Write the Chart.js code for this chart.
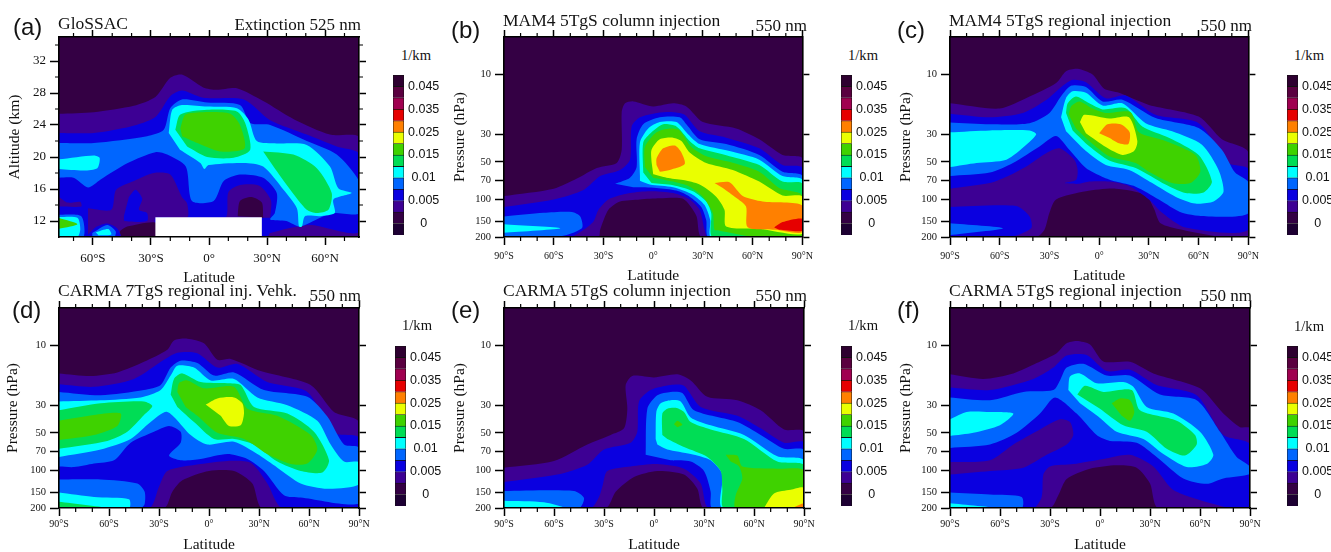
<!DOCTYPE html>
<html>
<head>
<meta charset="utf-8">
<title>Aerosol extinction panels</title>
<script src="https://cdn.jsdelivr.net/npm/chart.js@4"></script>
<style>
  html, body { margin:0; padding:0; background:#fff; }
  #page { position:relative; width:1331px; height:552px; overflow:hidden; }
  #page canvas { position:absolute; }
  #page span { position:absolute; white-space:pre; color:#111; transform:translateY(-50%); line-height:1; opacity:.99; }
</style>
</head>
<body>
<div id="page"></div>
<script>
// ── Colour bar ──────────────────────────────────────────
const colorbarColors = ['#1d0033','#340044','#3d0094','#0a00e0','#0066ff','#00ffff','#00dd55','#3fd200','#eaff00','#ff8000','#e60000','#a00050','#5a0040','#2e0030'];
const colorbarSlots  = [1,3,5,7,9,11,13];
const colorbarLabels = ['0','0.005','0.01','0.015','0.025','0.035','0.045'];

// ── Axes ────────────────────────────────────────────────
const latTicks    = [-90,-60,-30,0,30,60,90];
const latLabels   = ['90°S','60°S','30°S','0°','30°N','60°N','90°N'];
const latMinor    = [-80,-70,-50,-40,-20,-10,10,20,40,50,70,80];
const pressTicks  = [10,30,50,70,100,150,200];
const altTicks    = [12,16,20,24,28,32];
const altMinor    = [14,18,22,26,30,34];

// ── Panel (a) GloSSAC: [lat, km] ────────────────────────
const aBase = [[-78,35],[78,35],[78,10],[-78,10]];
const aL1 = [[-78,25.4],[-59.5,25.6],[-38.8,26.4],[-27.7,27.5],[-20,29.9],[-14,30.3],[-3,28.7],[4,28.4],[14.4,28.6],[28,27],[44,24.7],[62.5,22.8],[78,22.4],[78,10],[-78,10]];
const aL2 = [[-78,23],[-59.5,23],[-40.5,23.8],[-27.7,25],[-20,27.6],[-14,28.3],[-3,27.4],[18,27.2],[31.6,24.6],[50.5,22.8],[66,21.3],[78,20.3],[78,10.7],[52,11.5],[31.6,10.5],[30,10],[-78,10]];
const aHump = [[-62.5,13.6],[-50.5,13.4],[-48,15.9],[-38.8,17],[-28.5,18],[-20,17.8],[-14,15],[-11.3,14.2],[-11.3,12.4],[-27.7,12.4],[-27.7,10],[-57.5,10],[-62.5,10.3]];
const aStrip = [[-78,15.1],[-73,14.3],[-66.5,14.4],[-66,13.8],[-78,13.8]];
const aArch = [[-8,12.4],[8.5,12.4],[10,15.6],[16,16.5],[26,16.4],[32,14.6],[31.6,12.4]];
const aDark1 = [[14.8,12.6],[16,14.5],[22,15],[27.3,14.3],[28,12.4]];
const aDark2 = [[-45.7,10.8],[-42.3,11.3],[-27.7,11.8],[-27.7,10],[-47.4,10]];
const aIsland = [[-41.4,15],[-38,15.9],[-34.5,14.8],[-36.2,13.4],[-32,13],[-32,12],[-43.6,12],[-44,12.6]];
const aLow2 = [[-62.5,10.3],[-58,11.3],[-52.5,11.7],[-47.5,11.1],[-45.7,10],[-62.5,10]];
const aLow3 = [[-60.3,10.5],[-52.5,11.5],[-48.2,10.7],[-49,10],[-60.3,10]];
const aLow4 = [[-58.5,10.6],[-52,11],[-50.5,10.3],[-57,10.2]];
const aCorner2 = [[-78,13],[-66,13],[-64,10.5],[-62.5,10],[-78,10]];
const aCorner3 = [[-78,12.8],[-66,12.6],[-65,10],[-78,10]];
const aCorner4 = [[-78,12.5],[-68,12.4],[-66.5,11],[-68,10],[-78,10]];
const aCorner6 = [[-78,12.4],[-68,11.6],[-78,11]];
const aL3 = [[-78,21.75],[-59.5,21.75],[-32,22.6],[-23.4,23.4],[-20,26.1],[-14,27.2],[-1,26.8],[16,26.5],[21.3,24.25],[31.6,24],[50.5,22],[66,20.3],[78,16.75],[78,13],[64,13],[57.4,12.4],[47,11.3],[40,12],[31.6,12.2],[34,13],[35,15.5],[28,17.4],[16,17.8],[7.6,17],[2.4,14.5],[-8.8,14.5],[-12,18.8],[-21.6,20.3],[-27.7,20.6],[-42,19.25],[-56,17.2],[-62.5,16.2],[-70,17.4],[-78,17.4]];
const aL4 = [[-20.8,23],[-19,25.9],[-14,26.5],[-1,26.3],[14.4,26.1],[20.4,24.7],[24.7,22],[35,21.7],[50.5,21.5],[62.5,18.8],[66.8,16.1],[73.7,15.5],[64.3,14.7],[65,13],[57.4,12.6],[49.6,12.6],[48,11.3],[46.5,11.3],[45.4,13.6],[38.5,15.9],[28,18.8],[18,19.25],[-0.2,19],[-2.4,18.5],[-4.5,19.25],[-15,20.9]];
const aL4b = [[-78,19.7],[-59.5,20.2],[-56.5,19.9],[-57.7,18.6],[-64.6,18.3],[-78,18.5]];
const aL5 = [[28,20.7],[43.6,20.3],[55.7,18.6],[63.4,15.5],[61.7,13.4],[55.7,13],[50.5,13.4],[42,15.9],[33.3,18.8]];
const aL5b = [[-17.4,23.4],[-14.8,25.3],[-1,25.9],[14.4,25.7],[18.7,24.25],[21.3,20.9],[12.7,19.9],[-1,20],[-11.3,21.3]];
const aL6 = [[-14.8,23.6],[-12.2,25.3],[-2.7,25.6],[11,25.4],[16,24],[18.4,21.1],[5.8,20.7],[-6,21.75],[-13.9,22.6]];
const aGap = [[-27.7,12.46],[27.3,12.46],[27.3,10],[-27.7,10]];

// ── Panel (b) MAM4 column: [lat, hPa] ───────────────────
const fullDomain = [[-90,5],[90,5],[90,200],[-90,200]];
const bL1 = [[-90,94],[-60,82],[-46,68],[-34,56],[-22,51],[-19,40],[-19,20],[-17,17],[-12,16.4],[0,18],[12,17],[20,18],[30,24],[50,27],[64,33],[78,44],[90,47],[90,200],[29.4,200],[26,135],[18,99],[4,98],[-8,100],[-20,104],[-27,121],[-32,175],[-33,200],[-90,200]];
const bL2 = [[-90,115],[-60,100],[-42,84],[-32,65],[-20,58],[-14,48],[-13,26],[-8,22],[2.4,20.3],[12,20],[19,21],[28,28.5],[44,32],[64,39],[78,53],[90,56],[90,200],[33,200],[31,175],[28,121],[22,100],[12,89],[-2,86],[-14,89],[-27,100],[-33,121],[-36,150],[-42,175],[-50,200],[-90,200]];
const bL3a = [[-90,137],[-66,128],[-49,126],[-44,137],[-43,170],[-58,200],[-90,200]];
const bL4a = [[-90,158],[-56,170],[-90,185]];
const bL3 = [[-23,75],[-14,67],[-10,55],[-10,33],[-6,25],[4,22],[16,22],[20,25],[28,33],[44,36],[64,44],[78,60],[90,65],[90,200],[33.4,200],[32,147],[29,115],[22,95],[14,85],[2,81],[-12,80]];
const bL4 = [[-8,65],[-8,35],[-3,27],[4,24],[14,24],[21,30],[28,36],[46,41],[64,48],[78,65],[90,70],[90,200],[35,200],[34.4,147],[31,111],[24,92],[12,80],[-2,76],[-8,71]];
const bL5 = [[-6,61],[-6,35],[-1,29],[6,25],[14,26],[22,34],[28,39],[46,45],[64,53],[78,72],[90,75],[90,200],[36,200],[35,129],[32,104],[24,86],[12,77],[-1,74]];
const bL6 = [[-5,55],[-5,38],[2,29],[10,27],[16,28],[23,38],[32,45],[46,50],[64,60],[76,81],[90,93],[90,200],[62,200],[40,178],[37,175],[36,129],[30,95],[22,79],[12,72],[0,67]];
const bL7 = [[-1,50],[-1,40],[4,33],[12,32],[17,34],[22,42],[32,51],[48,58],[64,72],[78,93],[90,95],[90,188],[64,172],[44,165],[43,121],[38,95],[28,76],[18,70],[8,67],[0,63]];
const bL8a = [[2,53],[2,47],[6,39],[13,37],[17,42],[19,52],[10,58],[4,60]];
const bL8b = [[37,74],[46,73],[54,94],[66,104],[90,112],[90,182],[74,175],[57,167],[56,114],[50,97],[42,81]];
const bL9 = [[73,168],[78,152],[90,143],[90,178],[76,175]];

// ── Panel (c) MAM4 regional ─────────────────────────────
const cL1 = [[-90,17],[-60,18.7],[-42,15],[-26,11.7],[-20,9.4],[-13,9],[-4,10],[3,13],[12,14],[30,17.5],[60,21.7],[74,33],[90,42],[90,200],[74,200],[50,175],[37,155],[33,118],[28,92],[10,82],[-8,86],[-26,100],[-30,128],[-33,175],[-38,200],[-90,200]];
const cL2 = [[-90,20.6],[-66,22],[-46,20.3],[-32,16],[-22,12.3],[-16,11],[-8,11.5],[4,15.5],[16,14.7],[34,21],[60,24.5],[78,51],[90,57],[90,175],[52,168],[38,128],[30,100],[18,78],[6,72],[-6,72],[-12,75],[-20.6,74],[-14,70],[-13,58],[-15,48],[-24,39],[-32,42.6],[-44,54.5],[-54,64],[-66,74],[-90,82]];
const cL2b = [[-90,115],[-50,113],[-42,137],[-41,170],[-54,200],[-90,200]];
const cL3b = [[-90,155],[-58,170],[-90,193]];
const cL3 = [[-90,24.2],[-66,25],[-42,24.5],[-30,20.3],[-23,14.9],[-17,12.3],[-8,12.6],[2,16.4],[14,15.9],[34,22.3],[60,26.8],[74,40],[82,61],[90,73],[90,129],[66,137],[50,128],[36,100],[22,79],[10,72],[2,66],[-8,56],[-18,40],[-26,31],[-36,37.6],[-52,51],[-66,61],[-90,65]];
const cL4 = [[-23,22],[-20,15.4],[-16,13.6],[-8,14],[2,17.7],[14,17],[28,24.5],[44,28.5],[62,36.5],[72,58],[75,87],[69,104],[58,108],[46,95],[32,74],[18,58],[4,53],[-8,41],[-20,28.5]];
const cL4b = [[-90,29],[-66,28],[-42,28],[-38,30],[-44,36.5],[-56,48],[-74,51],[-90,55]];
const cL5 = [[-20,20.3],[-19,17],[-14,15],[-6,17],[2,19],[16,18.6],[26,26],[42,32],[60,44],[68,72],[63,88],[52,89],[40,76],[22,56],[6,48.7],[-6,37.5],[-16,28]];
const cL6 = [[-18.4,21],[-17,18],[-12,16.4],[-4,18.7],[4,20.3],[19,20],[24,29],[40,34],[58,44],[61,60],[55,74],[44,74],[30,60],[22,51],[6,45],[-6,34],[-14,27]];
const cL7 = [[-11.6,24],[-9,21],[6,22.5],[18,22],[23,34],[21,41],[14,44],[4,38],[-8,29.5]];
const cL8 = [[0,29.5],[5,25],[13,25],[18.4,29],[17.6,36],[12,35.5],[6,32]];

// ── Panel (d) CARMA 7TgS regional ───────────────────────
const dL1 = [[-90,16.7],[-71,17.5],[-55,16.4],[-39,13.5],[-25,10.8],[-21,9.1],[-13,8.8],[-3,9.6],[5,13],[13,12.8],[31,16],[61,20.7],[75,34],[90,41],[90,200],[32,200],[26,127],[15,101],[0,101],[-16,120],[-22,148],[-27,200],[-90,200]];
const dL2 = [[-90,20.4],[-69,21.4],[-45,18.5],[-27,13],[-19,11.4],[-7,11.5],[5,15],[17,14],[35,19.6],[59,23.5],[75,50],[90,55],[90,200],[44,200],[35,127],[25,87],[11,84],[-5,89],[-25,101],[-30,135],[-36,200],[-90,200]];
const dL3 = [[-90,23.5],[-65,25],[-39,22.7],[-29,20.7],[-23,15],[-17,13.2],[-7,13.8],[3,17.4],[15,16.4],[33,22.7],[59,25.7],[71,37],[81,62],[90,66],[90,183],[55,165],[45,158],[33,101],[23,81],[11,74],[-5,81],[-17,83],[-24,76],[-17,60],[-17,49],[-24,44],[-33,49],[-47,60],[-57,83],[-69,88],[-81,94],[-90,93]];
const dL3b = [[-90,118],[-65,118],[-43,127],[-38.6,148],[-38.6,186],[-41,200],[-90,200]];
const dL4b = [[-90,150],[-69,163],[-48,170],[-48,200],[-90,200]];
const dL5b = [[-90,178],[-61,200],[-90,200]];
const dL4 = [[-90,28],[-65,27.4],[-41,26],[-29,22.7],[-23,17.4],[-19,14.5],[-9,15],[1,19],[15,18.5],[29,26],[47,30],[65,40],[73,62],[81,85],[90,86],[90,129],[71,140],[55,127],[41,95],[29,74],[15,59],[-1,62],[-11,52],[-25,34],[-35,41],[-47,56],[-65,68],[-90,78]];
const dL5a = [[-90,33],[-65,29],[-39,28],[-34,30.5],[-39,36],[-49,49],[-61,58],[-90,67]];
const dL6a = [[-90,40],[-69,36],[-53,35],[-55,44],[-69,52],[-90,57]];
const dL5 = [[-23,24.7],[-21,18.5],[-16,16.7],[-5,19.6],[11,20],[19,20.7],[27,31],[47,35],[63,49],[72,83],[68,104],[55,101],[41,85],[27,62],[15,56],[3,56],[-9,41],[-19,31]];
const dL6 = [[-19,23.5],[-18,20],[-13,19],[-3,22],[15,21.4],[23,32],[41,36.5],[61,52],[65,68],[59,88],[49,89],[35,74],[21,56],[5,50],[-7,36.5],[-14,31]];
const dL7 = [[-2,29.7],[5,26.5],[15,26],[20,29],[21,35],[19,43.5],[12,44],[7,36.5]];

// ── Panel (e) CARMA 5TgS column ─────────────────────────
const eL1 = [[-90,95],[-60,84],[-40,62],[-26,52],[-18,46],[-16,32],[-17,20.7],[-13,17.5],[0,18],[14,17],[22,19],[32,25.7],[50,27.4],[64,33],[78,47],[90,49],[90,200],[30,200],[26,140],[18,108],[2,101],[-12,113],[-23,148],[-29,200],[-90,200]];
const eL2 = [[-90,124],[-58,108],[-40,90],[-30,68],[-14,60],[-10,49],[-9,28],[-2,22.7],[10,20.7],[18,21],[28,31],[50,36.5],[64,46],[78,60],[90,60],[90,200],[33,200],[28,127],[18,97],[2,89],[-14,93],[-28,101],[-31,135],[-33,163],[-38,200],[-90,200]];
const eL3b = [[-90,146],[-48,146],[-42,166],[-45,200],[-90,200]];
const eL4b = [[-90,175],[-66,180],[-54,200],[-90,200]];
const eL3 = [[-5,75],[-4,32],[2,25],[10,23.5],[17,24],[24,33],[50,41],[64,52],[78,67],[90,69],[90,200],[35,200],[34,148],[30,101],[22,85],[10,83]];
const eL4 = [[1,56],[1.4,34],[4,29],[10,27.4],[16,28],[22,37.6],[34,43.5],[54,52],[74,77],[90,83],[90,200],[41,200],[41,108],[34,83],[22,74],[8,68],[2,62]];
const eL5 = [[5,52],[5,35],[8,32],[13,31.5],[18,34],[22,41],[34,47],[54,56],[74,85],[90,91],[90,200],[42,200],[41,140],[40,101],[32,78],[18,65],[8,56]];
const eL6a = [[12,42.6],[14,40],[17,43],[14,45]];
const eL6 = [[43,75],[50,76],[53,93],[74,97],[90,100],[90,200],[49,200],[49,158],[53,116],[51,93],[46,85]];
const eL7 = [[66,200],[72,153],[82,143],[90,138],[90,200]];
const eL8 = [[83,200],[90,183],[90,200]];

// ── Panel (f) CARMA 5TgS regional ───────────────────────
const fL1 = [[-90,17],[-70,18.5],[-52,16.7],[-38,13.8],[-26,11.5],[-20,9.6],[-14,9.2],[-6,9.8],[2,13.4],[18,13.5],[32,16.7],[60,22],[74,35],[84,45],[90,46],[90,200],[35,200],[30,127],[22,95],[10,91],[-6,97],[-20,117],[-25,158],[-30,200],[-90,200]];
const fL2 = [[-90,21.7],[-66,22.7],[-40,18.5],[-28,15],[-20,12],[-8,11.9],[4,16],[18,15.6],[34,20.7],[58,25],[74,52],[90,62],[90,200],[78,200],[54,163],[43,140],[32,93],[18,75],[2,81],[-16,89],[-30,93],[-34,108],[-35,163],[-40,200],[-90,200]];
const fHump = [[-90,86],[-66,83],[-52,62],[-36,47],[-24,39],[-18,41],[-16,52],[-20,62],[-32,75],[-46,95],[-66,101],[-90,108]];
const fL3 = [[-90,26],[-66,27.4],[-46,23.5],[-28,22.7],[-24,19],[-20,15],[-10,14],[4,17.4],[18,17.4],[36,24.7],[58,27.4],[72,49],[82,78],[90,93],[90,107],[74,116],[64,128],[50,116],[34,78],[22,60],[6,58],[-2,52],[-14,35],[-27,26],[-36,35],[-50,50],[-66,62],[-90,66]];
const fL3b = [[-90,150],[-66,156],[-47,163],[-47,200],[-90,200]];
const fL4b = [[-90,183],[-62,200],[-90,200]];
const fL4a = [[-90,39],[-80,34],[-66,34],[-52,35],[-60,43.5],[-76,50],[-90,53]];
const fL4 = [[-19,22.7],[-18,17.7],[-12,16.7],[-2,20],[14,19.6],[20,21.4],[28,31],[44,35],[60,49],[68,75],[64,89],[52,94],[38,74],[26,56],[10,49],[0,38],[-12,29]];
const fL5 = [[-13.6,24.7],[-9,21],[2,23.5],[19,22.7],[24,33],[46,40],[57,52],[58,62],[51,76],[40,67],[28,49],[14,43.5],[0,32]];
const fL6 = [[7,29],[12,26.5],[18,27.4],[20.6,34],[18,40],[13,36.5]];

// ── Paint order: [colour level, outline], level -1 = no data ──
const layersA = [[0,aBase],[1,aL1],[2,aL2],[1,aHump],[1,aStrip],[1,aArch],[0,aDark1],[0,aDark2],[2,aIsland],[2,aLow2],[3,aLow3],[4,aLow4],[2,aCorner2],[3,aCorner3],[4,aCorner4],[6,aCorner6],[3,aL3],[4,aL4],[4,aL4b],[5,aL5],[5,aL5b],[6,aL6],[-1,aGap]];
const layersB = [[0,fullDomain],[1,bL1],[2,bL2],[3,bL3a],[4,bL4a],[3,bL3],[4,bL4],[5,bL5],[6,bL6],[7,bL7],[8,bL8a],[8,bL8b],[9,bL9]];
const layersC = [[0,fullDomain],[1,cL1],[2,cL2],[2,cL2b],[3,cL3b],[3,cL3],[4,cL4],[4,cL4b],[5,cL5],[6,cL6],[7,cL7],[8,cL8]];
const layersD = [[0,fullDomain],[1,dL1],[2,dL2],[3,dL3],[3,dL3b],[4,dL4b],[5,dL5b],[4,dL4],[5,dL5a],[6,dL6a],[5,dL5],[6,dL6],[7,dL7]];
const layersE = [[0,fullDomain],[1,eL1],[2,eL2],[3,eL3b],[4,eL4b],[3,eL3],[4,eL4],[5,eL5],[6,eL6a],[6,eL6],[7,eL7],[8,eL8]];
const layersF = [[0,fullDomain],[1,fL1],[2,fL2],[1,fHump],[3,fL3],[3,fL3b],[4,fL4b],[4,fL4a],[4,fL4],[5,fL5],[6,fL6]];

// ── Page layout ─────────────────────────────────────────
const SERIF = '"Liberation Serif"';
const SANS  = '"Liberation Sans"';
const page  = document.getElementById('page');

const panels = [
  { tag:'(a)', tagX:13,  tagY:27,  title:'GloSSAC',                     titleY:24,  unit:'Extinction 525 nm', unitR:361,  unitY:24,
    l:59,  t:37,  layers:layersA, altitude:true, leftW:53, bottomH:50, latPad:6, cbX:393,  cbTop:75,  kmX:416,  kmY:55 },
  { tag:'(b)', tagX:451, tagY:30,  title:'MAM4 5TgS column injection',  titleY:21,  unit:'550 nm', unitR:807,  unitY:25,
    l:504, t:37,  layers:layersB, leftW:53, bottomH:48, latPad:5, cbX:841,  cbTop:75,  kmX:863,  kmY:55 },
  { tag:'(c)', tagX:897, tagY:30,  title:'MAM4 5TgS regional injection', titleY:21, unit:'550 nm', unitR:1252, unitY:25,
    l:950, t:37,  layers:layersC, leftW:53, bottomH:48, latPad:5, cbX:1287, cbTop:75,  kmX:1309, kmY:55 },
  { tag:'(d)', tagX:12,  tagY:310, title:'CARMA 7TgS regional inj. Vehk.', titleY:291, unit:'550 nm', unitR:361,  unitY:295,
    l:59,  t:308, layers:layersD, leftW:55, bottomH:46, latPad:2, cbX:395,  cbTop:346, kmX:417,  kmY:325 },
  { tag:'(e)', tagX:451, tagY:310, title:'CARMA 5TgS column injection', titleY:291, unit:'550 nm', unitR:807,  unitY:295,
    l:504, t:308, layers:layersE, leftW:53, bottomH:46, latPad:2, cbX:841,  cbTop:346, kmX:863,  kmY:325 },
  { tag:'(f)', tagX:897, tagY:310, title:'CARMA 5TgS regional injection', titleY:291, unit:'550 nm', unitR:1252, unitY:295,
    l:950, t:308, layers:layersF, leftW:53, bottomH:46, latPad:2, cbX:1287, cbTop:346, kmX:1309, kmY:326 }
];

function addText(str, x, y, family, size, right) {
  const s = document.createElement('span');
  s.textContent = str;
  s.style.fontFamily = family;
  s.style.fontSize = size + 'px';
  s.style.top = y + 'px';
  if (right) s.style.right = (1331 - x) + 'px'; else s.style.left = x + 'px';
  page.appendChild(s);
}

function addCanvas(x, y, w, h) {
  const c = document.createElement('canvas');
  c.width = w; c.height = h;
  c.style.left = x + 'px'; c.style.top = y + 'px';
  c.style.width = w + 'px'; c.style.height = h + 'px';
  page.appendChild(c);
  return c;
}

// ── Minor ticks (chart.js only has one tick length per axis) ──
const minorTicks = {
  id: 'minorTicks',
  afterDraw(chart, args, opts) {
    const { ctx, chartArea: a, scales } = chart;
    ctx.save();
    ctx.strokeStyle = '#000';
    ctx.lineWidth = 1.2;
    ctx.beginPath();
    opts.lat.forEach(v => {
      const px = scales.x.getPixelForValue(v);
      if (px < a.left || px > a.right) return;
      ctx.moveTo(px, a.top); ctx.lineTo(px, a.top - 4);
      ctx.moveTo(px, a.bottom); ctx.lineTo(px, a.bottom + 4);
    });
    opts.y.forEach(v => {
      const py = scales.y.getPixelForValue(v);
      ctx.moveTo(a.left, py); ctx.lineTo(a.left - 4, py);
      ctx.moveTo(a.right, py); ctx.lineTo(a.right + 4, py);
    });
    ctx.stroke();
    ctx.restore();
  }
};

// ── Contour panel ───────────────────────────────────────
function drawPanel(p) {
  const W = 300, H = 200, rightW = 14, topH = 14;
  const canvas = addCanvas(p.l - p.leftW, p.t - topH, p.leftW + W + rightW, topH + H + p.bottomH);

  const xLimits = p.altitude ? { min:-77.5, max:77.5 } : { min:-90, max:90 };
  const yTicks = p.altitude ? altTicks : pressTicks;
  const yLimits = p.altitude ? { type:'linear', min:10, max:35 } : { type:'logarithmic', min:5, max:200, reverse:true };
  const setLat = s => { s.ticks = latTicks.filter(v => v >= s.min && v <= s.max).map(v => ({ value:v })); };
  const setY = s => { s.ticks = yTicks.map(v => ({ value:v })); };
  const latFont = { family:SERIF, size: p.altitude ? 13 : 10 };
  const yFont = { family:SERIF, size: p.altitude ? 13 : 10.5 };
  const border = { color:'#000', width:1.6, z:1 };
  const grid = len => ({ drawOnChartArea:false, tickLength:len, tickColor:'#000', tickWidth:1.5 });

  new Chart(canvas, {
    type: 'scatter',
    data: {
      // chart.js paints the highest order first, so the outer contours go under the inner ones
      datasets: p.layers.map(([level, outline], i) => ({
        order: p.layers.length - i,
        data: outline.map(([x, y]) => ({ x, y })),
        showLine: true,
        fill: 'shape',
        backgroundColor: level < 0 ? '#fff' : colorbarColors[level + 1],
        borderWidth: 0,
        pointRadius: 0,
        tension: level < 0 ? 0 : 0.25
      }))
    },
    options: {
      responsive: false,
      animation: false,
      layout: { padding:0 },
      plugins: {
        legend: { display:false },
        tooltip: { enabled:false },
        minorTicks: { lat:latMinor, y: p.altitude ? altMinor : [] }
      },
      scales: {
        x: { type:'linear', position:'bottom', ...xLimits, border, grid:grid(8),
          afterBuildTicks:setLat,
          afterFit: s => { s.height = p.bottomH; },
          ticks: { autoSkip:false, maxRotation:0, padding:p.latPad, color:'#111', font:latFont,
            callback: v => latLabels[latTicks.indexOf(v)] },
          title: { display:true, text:'Latitude', color:'#111', padding:0, font:{ family:SERIF, size:15.5 } } },
        x2: { type:'linear', position:'top', ...xLimits, border, grid:grid(7),
          afterBuildTicks:setLat,
          afterFit: s => { s.height = topH; },
          ticks: { display:false } },
        y: { position:'left', ...yLimits, border, grid:grid(9),
          afterBuildTicks:setY,
          afterFit: s => { s.width = p.leftW; },
          ticks: { autoSkip:false, padding:4, color:'#111', font:yFont, callback: v => String(v) },
          title: { display:true, text: p.altitude ? 'Altitude (km)' : 'Pressure (hPa)', color:'#111', padding:0,
            font:{ family:SERIF, size:15.5 } } },
        y2: { position:'right', ...yLimits, border, grid:grid(7),
          afterBuildTicks:setY,
          afterFit: s => { s.width = rightW; },
          ticks: { display:false } }
      }
    },
    plugins: [minorTicks]
  });

  addText(p.tag, p.tagX, p.tagY, SANS, 24);
  addText(p.title, p.l - 1, p.titleY, SERIF, 17.5);
  addText(p.unit, p.unitR, p.unitY, SERIF, 17, true);
  addText('1/km', p.kmX - 15, p.kmY, SERIF, 14.6);
  drawColorbar(p);
}

// ── Colour bar chart ────────────────────────────────────
function drawColorbar(p) {
  const pad = 14;
  const canvas = addCanvas(p.cbX, p.cbTop - pad, 11 + 44, 160 + pad * 2);
  new Chart(canvas, {
    type: 'bar',
    data: {
      labels: ['1/km'],
      datasets: colorbarColors.map(c => ({
        data: [1],
        backgroundColor: c,
        borderColor: '#111',
        borderWidth: 0.8,
        barPercentage: 1,
        categoryPercentage: 1
      }))
    },
    options: {
      responsive: false,
      animation: false,
      layout: { padding:{ top:pad, bottom:pad } },
      plugins: { legend:{ display:false }, tooltip:{ enabled:false } },
      scales: {
        x: { stacked:true, display:false },
        y: { stacked:true, position:'right', min:0, max:14,
          afterBuildTicks: s => { s.ticks = colorbarSlots.map(v => ({ value:v })); },
          afterFit: s => { s.width = 44; },
          border: { display:false },
          grid: { display:false, drawTicks:false },
          ticks: { padding:4, crossAlign:'center', color:'#111', autoSkip:false,
            font: { family:SANS, size:12.5 },
            callback: v => colorbarLabels[colorbarSlots.indexOf(v)] } }
      }
    }
  });
}

panels.forEach(drawPanel);
</script>
</body>
</html>
